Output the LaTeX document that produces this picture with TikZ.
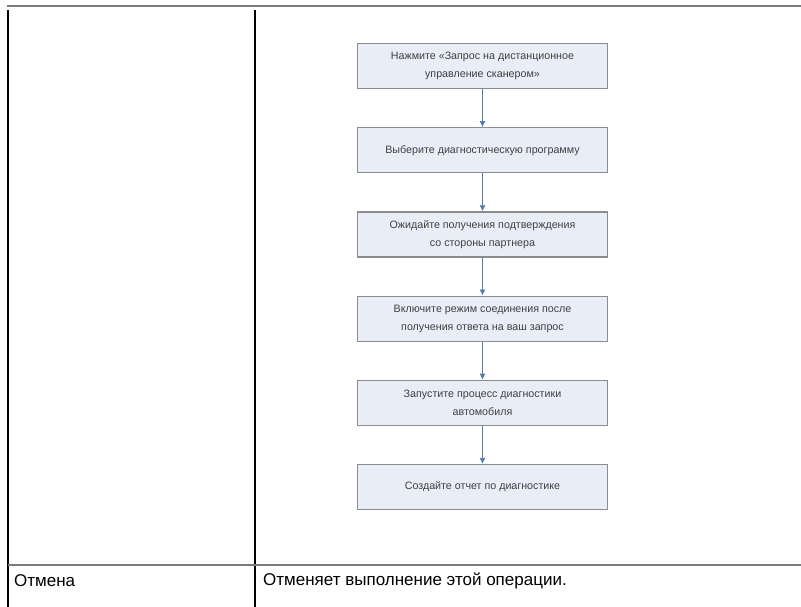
\documentclass[tikz,border=0pt]{standalone}
\usepackage{fontspec}
\setmainfont{Liberation Sans}
\usetikzlibrary{arrows.meta,positioning}
\definecolor{FlowFill}{HTML}{E9EDF7}
\definecolor{FlowEdge}{HTML}{8C8C8C}
\definecolor{FlowArrow}{HTML}{5A78B0}
\definecolor{RuleGray}{HTML}{7A7A7A}

\begin{document}
\begin{tikzpicture}[x=1pt, y=-1pt,
    stepbox/.style={draw=FlowEdge, line width=1.2pt, fill=FlowFill, minimum width=250pt,
      minimum height=45pt, align=center, font=\fontsize{10.7}{18}\selectfont, text=black!75},
    arrow/.style={-{Latex[length=6pt,width=6pt]}, line width=0.8pt, color=FlowArrow},
    cell/.style={anchor=west, inner sep=0pt, font=\fontsize{17}{20}\selectfont},
    node distance=38pt
  ]
    \useasboundingbox (0,0) rectangle (801,607);
    % table rules
    \draw[RuleGray, line width=2pt] (7,6) -- (801,6);
    \draw[black, line width=2pt] (8,10) -- (8,607);
    \draw[black, line width=2pt] (255,10) -- (255,607);
    \draw[RuleGray, line width=2pt] (8,565) -- (801,565);
    % flow chart
    \node[stepbox] (request) at (482.5,66) {Нажмите «Запрос на дистанционное\\управление сканером»};
    \node[stepbox, below=of request] (program) {Выберите диагностическую программу};
    \node[stepbox, below=of program] (confirm) {Ожидайте получения подтверждения\\со стороны партнера};
    \node[stepbox, below=of confirm] (connect) {Включите режим соединения после\\получения ответа на ваш запрос};
    \node[stepbox, below=of connect] (diagnose) {Запустите процесс диагностики\\автомобиля};
    \node[stepbox, below=of diagnose] (report) {Создайте отчет по диагностике};
    \draw[arrow] (request) -- (program);
    \draw[arrow] (program) -- (confirm);
    \draw[arrow] (confirm) -- (connect);
    \draw[arrow] (connect) -- (diagnose);
    \draw[arrow] (diagnose) -- (report);
    % bottom row
    \node[cell] (cancel) at (14,581) {Отмена};
    \node[cell] (cancelnote) at (263,581) {Отменяет выполнение этой операции.};
  \end{tikzpicture}
\end{document}
